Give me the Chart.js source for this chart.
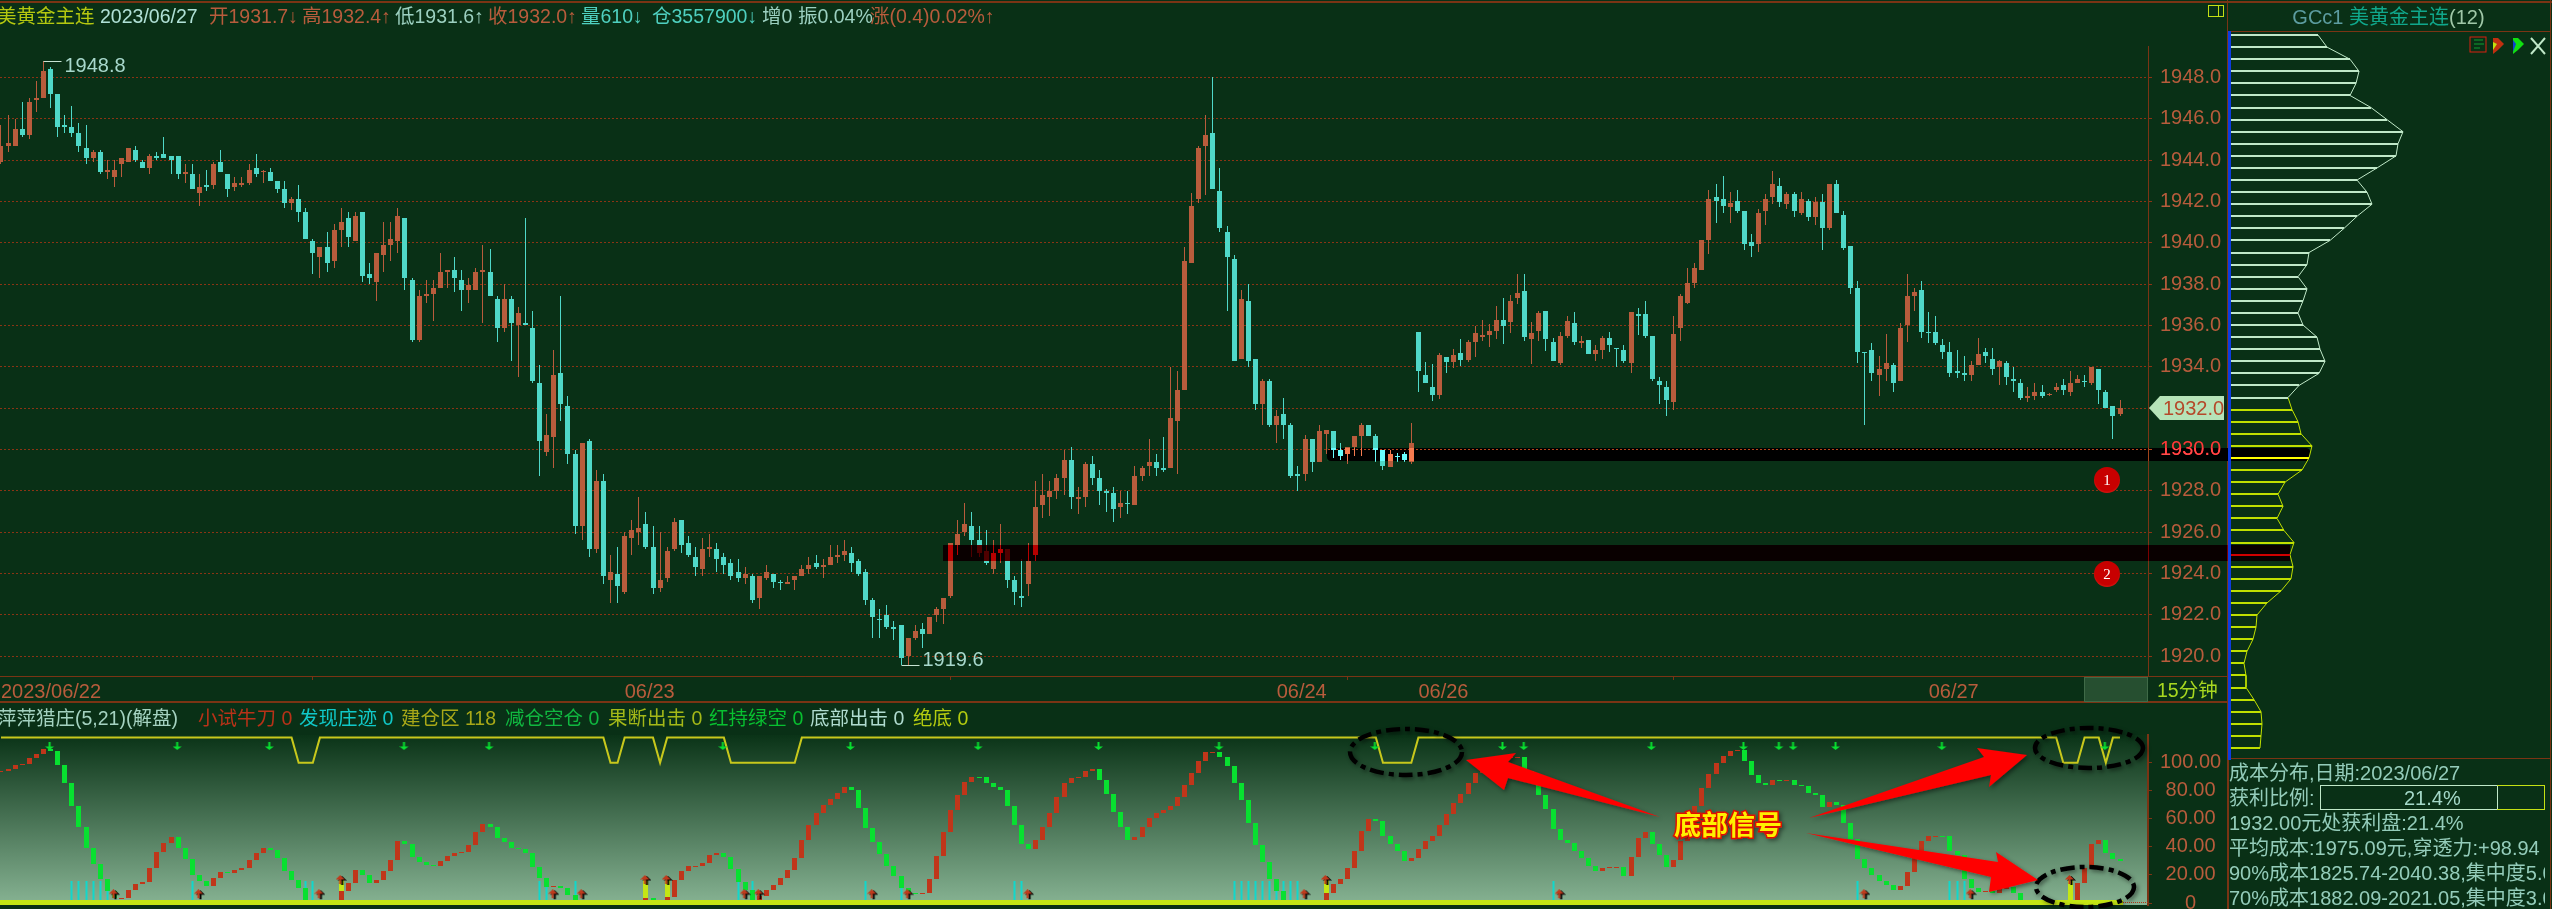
<!DOCTYPE html>
<html lang="zh">
<head>
<meta charset="utf-8">
<title>美黄金主连 15分钟</title>
<script src="https://cdn.jsdelivr.net/npm/chart.js@4/dist/chart.umd.min.js"></script>
<style>
html, body { margin:0; padding:0; width:2552px; height:909px; overflow:hidden; background:#093016; }
body { position:relative; font-family:"Liberation Sans","Noto Sans CJK SC",sans-serif; }
canvas { position:absolute; display:block; }
#cMain { left:0; top:0; z-index:1; }
#cInd { left:0; top:703px; z-index:1; }
#cCost { left:2229px; top:29px; z-index:2; }
.t { position:absolute; white-space:nowrap; z-index:4; font-size:19.5px; line-height:22px; }
.c { font-size:20px; color:#94ccba; }
.ln { position:absolute; background:#7a3414; z-index:3; }
.mark { position:absolute; width:26px; height:26px; border-radius:50%; z-index:4; color:#fff;
  background:radial-gradient(circle at 50% 45%, #c80000 62%, #e02018 80%, #8a0000 100%);
  font:15px/26px "Liberation Serif",serif; text-align:center; }
#cfg { position:absolute; left:0; top:0; z-index:5; pointer-events:none; }
</style>
</head>
<body>
<canvas id="cMain" width="2552" height="703"></canvas>
<canvas id="cInd" width="2229" height="206"></canvas>
<canvas id="cCost" width="321" height="725"></canvas>

<!-- linhas do quadro -->
<div class="ln" style="left:0;top:1px;width:2552px;height:2px"></div>
<div class="ln" style="left:2227px;top:31px;width:323px;height:1px"></div>
<div class="ln" style="left:2227px;top:758px;width:323px;height:1px"></div>
<div class="ln" style="left:2550px;top:0;width:1px;height:909px"></div>
<div class="ln" style="left:2228px;top:31px;width:3px;height:729px;background:#0e3ce0"></div>
<div style="position:absolute;left:2084px;top:677px;width:62px;height:23px;background:#264f30;border:1px solid #3f6a47;z-index:3"></div>
<div style="position:absolute;left:2208px;top:5px;width:14px;height:10px;border:1px solid #c4e014;z-index:3"></div>
<div style="position:absolute;left:2218px;top:5px;width:1px;height:11px;background:#c4e014;z-index:3"></div>

<!-- cabecalho -->
<div class="t" style="left:-3px;top:5px;color:#b4c810">美黄金主连</div>
<div class="t" style="left:100px;top:5px;color:#b0e0d6">2023/06/27</div>
<div class="t" style="left:209px;top:5px;color:#b85c3c">开1931.7↓</div>
<div class="t" style="left:302px;top:5px;color:#b85c3c">高1932.4↑</div>
<div class="t" style="left:395px;top:5px;color:#9cd0c0">低1931.6↑</div>
<div class="t" style="left:488px;top:5px;color:#b85c3c">收1932.0↑</div>
<div class="t" style="left:581px;top:5px;color:#4fd0c0">量610↓</div>
<div class="t" style="left:652px;top:5px;color:#4fd0c0">仓3557900↓</div>
<div class="t" style="left:762px;top:5px;color:#9cd0c0">增0</div>
<div class="t" style="left:798px;top:5px;color:#9cd0c0">振0.04%</div>
<div class="t" style="left:870px;top:5px;color:#b85c3c">涨(0.4)0.02%↑</div>

<!-- titulo do indicador -->
<div class="t" style="left:-3px;top:707px;color:#a4d2c0">萍萍猎庄(5,21)(解盘)</div>
<div class="t" style="left:198px;top:707px;color:#b83218">小试牛刀 0</div>
<div class="t" style="left:299px;top:707px;color:#10c8c8">发现庄迹 0</div>
<div class="t" style="left:401px;top:707px;color:#a8a818">建仓区 118</div>
<div class="t" style="left:505px;top:707px;color:#10b840">减仓空仓 0</div>
<div class="t" style="left:608px;top:707px;color:#a4b818">果断出击 0</div>
<div class="t" style="left:709px;top:707px;color:#08c030">红持绿空 0</div>
<div class="t" style="left:810px;top:707px;color:#b0dcd0">底部出击 0</div>
<div class="t" style="left:913px;top:707px;color:#b4cc10">绝底 0</div>
<div class="t" style="left:2157px;top:679px;color:#a8d820">15分钟</div>

<!-- painel de custo -->
<div class="t" style="left:2227px;width:323px;text-align:center;top:6px;font-size:20px;color:#5c9ca0">GCc1 <span style="color:#10a88c">美黄金主连</span><span style="color:#a0c8a8">(12)</span></div>
<div class="t c" style="left:2229px;top:762px">成本分布,日期:2023/06/27</div>
<div class="t c" style="left:2229px;top:787px">获利比例:</div>
<div style="position:absolute;left:2320px;top:785px;width:176px;height:23px;border:1px solid #c0e8c8;z-index:4"></div>
<div style="position:absolute;left:2497px;top:785px;width:47px;height:23px;border:1px solid #c4e014;border-left:none;z-index:4"></div>
<div class="t c" style="left:2404px;top:787px;color:#a4d8c8">21.4%</div>
<div class="t c" style="left:2229px;top:812px">1932.00元处获利盘:21.4%</div>
<div class="t c" style="left:2229px;top:837px">平均成本:1975.09元,穿透力:+98.94</div>
<div class="t c" style="left:2229px;top:862px;width:316px;overflow:hidden">90%成本1825.74-2040.38,集中度5.0</div>
<div class="t c" style="left:2229px;top:887px;width:316px;overflow:hidden">70%成本1882.09-2021.05,集中度3.0</div>

<div class="mark" style="left:2094px;top:467px">1</div>
<div class="mark" style="left:2094px;top:561px">2</div>

<!-- anotacoes feitas a mao sobre a imagem -->
<svg id="cfg" width="2552" height="909">
  <defs><filter id="sh"><feDropShadow dx="2" dy="2" stdDeviation="2" flood-color="#000" flood-opacity=".45"/></filter></defs>
  <g fill="none" stroke="#000" stroke-width="4.5" stroke-dasharray="14 5 5 5" filter="url(#sh)">
    <ellipse cx="1406" cy="752" rx="56" ry="23"/>
    <ellipse cx="2089" cy="748" rx="54" ry="20"/>
    <ellipse cx="2085" cy="887" rx="49" ry="20"/>
  </g>
  <g fill="#ff0000" filter="url(#sh)">
    <polygon points="1660,817 1508,778 1504,790 1466,760 1516,753 1508,762"/>
    <polygon points="1809,818 1984,757 1977,748 2027,755 1989,787 1991,775"/>
    <polygon points="1806,833 1998,862 1996,852 2038,880 1989,892 1991,877"/>
  </g>
  <g>
    <rect x="2470" y="37" width="16" height="15" fill="none" stroke="#d82010"/>
    <path d="M2474 40h9M2474 44h10M2474 48h6" stroke="#10a030"/>
    <polygon points="2493,38 2498,38 2504,44 2498,50 2493,54" fill="#c03010"/>
    <polygon points="2493,42 2497,44 2493,50" fill="#c0e010"/>
    <polygon points="2513,38 2518,38 2524,44 2518,50 2513,54" fill="#10e010"/>
    <polygon points="2513,40 2516,44 2513,52" fill="#1040d0"/>
    <path d="M2531 38l14 16M2545 38l-14 16" stroke="#c0e8c8" stroke-width="2"/>
  </g>
  <text x="1728" y="835" text-anchor="middle" font-family="Noto Sans CJK SC" font-weight="700" font-size="27"
    fill="#fff000" stroke="#e01000" stroke-width="3" paint-order="stroke" filter="url(#sh)">底部信号</text>
</svg>

<script>
// PRECOS (uma barra de 15 minutos por posicao)
const opens = [
  1943.9,1944.7,1944.7,1945.5,1945.2,1946.9,1947.0,1948.4,1947.2,1945.7,
  1945.6,1945.3,1944.6,1944.1,1944.4,1943.4,1943.2,1943.8,1943.9,1944.5,
  1943.9,1943.6,1944.2,1944.3,1944.2,1944.2,1943.3,1943.3,1942.4,1942.8,
  1942.8,1943.9,1943.3,1942.7,1942.8,1942.9,1943.6,1943.4,1943.4,1943.0,
  1942.6,1941.9,1942.1,1941.5,1940.1,1939.3,1939.8,1939.1,1940.6,1941.2,
  1940.1,1941.5,1938.5,1938.1,1939.4,1939.9,1940.1,1941.2,1938.2,1935.3,
  1937.4,1937.5,1937.8,1938.6,1938.7,1938.2,1937.7,1937.7,1938.6,1938.6,
  1937.3,1935.9,1937.3,1936.0,1936.1,1935.9,1933.2,1929.9,1930.6,1933.7,
  1932.1,1929.8,1926.3,1930.4,1925.2,1928.5,1923.7,1924.0,1923.1,1925.7,
  1926.0,1926.4,1925.3,1923.3,1923.8,1925.2,1926.6,1925.5,1924.8,1924.2,
  1925.2,1925.2,1924.8,1924.5,1924.1,1923.8,1923.9,1922.8,1923.8,1924.0,
  1923.6,1923.5,1923.7,1923.9,1924.2,1924.5,1924.3,1924.4,1924.8,1924.9,
  1925.0,1924.6,1924.1,1922.7,1921.8,1922.0,1921.4,1921.5,1920.0,1920.9,
  1921.3,1921.1,1922.0,1922.3,1922.9,1925.4,1926.0,1926.3,1925.6,1925.1,
  1924.2,1925.0,1925.2,1923.7,1922.9,1923.5,1924.9,1927.3,1927.7,1928.0,
  1928.6,1929.5,1927.6,1927.7,1929.3,1928.6,1928.0,1927.9,1927.2,1927.4,
  1927.3,1928.7,1929.2,1929.4,1929.1,1929.1,1931.4,1932.9,1939.0,1942.1,
  1944.7,1945.3,1942.5,1940.5,1939.2,1934.4,1937.2,1934.4,1932.2,1933.3,
  1931.2,1931.7,1931.2,1928.8,1928.8,1930.5,1929.4,1930.75,1930.9,1930.0,
  1929.8,1930.1,1930.65,1931.2,1930.65,1930.0,1929.15,1929.7,1929.8,1929.4,
  1935.7,1933.6,1933.0,1932.65,1934.45,1934.25,1934.65,1934.35,1935.2,1935.45,
  1935.55,1935.75,1936.25,1936.15,1937.35,1937.65,1935.35,1935.75,1936.7,1935.2,
  1934.2,1935.5,1936.1,1935.15,1935.3,1934.6,1934.8,1935.4,1934.9,1934.8,
  1934.2,1936.55,1936.55,1935.5,1933.3,1933.0,1932.3,1935.9,1937.1,1938.05,
  1938.7,1940.15,1942.2,1942.1,1941.75,1942.0,1941.55,1940.05,1939.95,1941.55,
  1942.2,1942.75,1941.85,1942.35,1941.45,1942.0,1941.25,1941.95,1940.7,1942.85,
  1941.35,1939.85,1937.8,1934.7,1934.8,1933.6,1933.9,1934.1,1933.3,1936.0,
  1937.4,1937.7,1935.7,1935.7,1935.05,1934.7,1933.8,1933.7,1933.6,1934.1,
  1934.7,1934.4,1934.0,1934.2,1933.4,1933.2,1932.5,1932.6,1932.8,1932.65,
  1932.9,1933.1,1932.8,1933.2,1933.3,1933.2,1933.9,1932.8,1932.1,1931.7
];
const closes = [
  1944.7,1944.8,1945.5,1945.2,1946.8,1947.0,1948.3,1947.2,1945.6,1945.6,
  1945.3,1944.7,1944.1,1944.4,1943.4,1943.5,1943.5,1944.1,1944.6,1944.0,
  1943.6,1944.2,1944.1,1944.1,1944.0,1943.3,1943.4,1942.6,1942.7,1942.7,
  1943.8,1943.4,1942.6,1942.9,1942.9,1943.5,1943.3,1943.45,1943.0,1942.6,
  1941.9,1942.1,1941.5,1940.2,1939.5,1939.8,1939.0,1940.6,1941.0,1940.3,
  1941.3,1938.4,1938.3,1939.5,1939.9,1940.2,1941.3,1938.3,1935.3,1937.4,
  1937.5,1937.8,1938.6,1938.7,1938.3,1937.7,1937.95,1938.6,1938.7,1937.4,
  1935.9,1937.3,1936.1,1936.6,1936.0,1933.3,1930.4,1930.7,1933.6,1932.2,
  1929.8,1926.3,1930.3,1925.2,1928.5,1923.9,1924.1,1923.4,1925.8,1926.1,
  1926.2,1925.3,1923.3,1923.7,1925.1,1926.5,1925.4,1924.9,1924.3,1925.2,
  1925.3,1924.7,1924.4,1923.9,1923.8,1924.0,1922.7,1923.9,1924.1,1923.6,
  1923.55,1923.6,1923.9,1924.2,1924.4,1924.3,1924.4,1924.8,1924.9,1925.1,
  1924.5,1924.0,1922.7,1921.9,1921.75,1921.4,1921.3,1919.9,1920.9,1921.2,
  1921.1,1921.9,1922.3,1922.8,1925.5,1925.9,1926.4,1925.6,1925.0,1924.5,
  1925.0,1925.2,1923.7,1923.1,1922.8,1924.6,1927.2,1927.8,1928.0,1928.6,
  1929.5,1927.7,1927.7,1929.3,1928.6,1928.0,1927.9,1927.1,1927.4,1927.35,
  1928.7,1929.1,1929.4,1929.1,1929.0,1931.5,1932.9,1939.1,1941.8,1944.6,
  1945.2,1942.6,1940.7,1939.3,1934.3,1937.3,1934.3,1932.2,1933.3,1931.2,
  1931.6,1931.2,1928.7,1928.7,1930.5,1929.4,1930.9,1930.95,1930.0,1929.7,
  1930.1,1930.65,1931.2,1930.65,1930.0,1929.2,1929.8,1929.65,1929.5,1930.3,
  1933.8,1933.2,1932.65,1934.55,1934.25,1934.55,1934.35,1935.2,1935.65,1935.55,
  1935.75,1936.25,1935.95,1937.2,1937.55,1935.45,1935.65,1936.6,1935.35,1934.3,
  1935.5,1936.2,1935.2,1935.25,1934.6,1934.8,1935.4,1935.05,1934.85,1934.3,
  1936.65,1936.45,1935.5,1933.4,1933.1,1932.4,1935.6,1937.4,1938.05,1938.8,
  1940.15,1942.1,1942.0,1941.8,1941.9,1941.55,1939.95,1939.85,1941.45,1942.1,
  1942.85,1941.95,1942.35,1941.55,1942.1,1941.25,1941.95,1940.7,1942.85,1941.45,
  1939.75,1937.8,1934.7,1934.65,1933.7,1933.9,1934.2,1933.2,1935.9,1937.4,
  1937.6,1935.7,1935.65,1935.15,1934.7,1933.7,1933.7,1933.6,1934.1,1934.6,
  1934.5,1933.9,1934.3,1933.5,1933.3,1932.5,1932.6,1932.8,1932.6,1932.7,
  1933.0,1932.9,1933.2,1933.4,1933.25,1934.0,1932.9,1932.0,1931.6,1932.0
];
const highs = [
  1945.7,1946.2,1946.0,1946.8,1947.0,1947.8,1948.8,1948.5,1947.2,1946.2,
  1946.6,1945.8,1945.7,1944.5,1944.5,1944.0,1944.0,1944.1,1944.6,1944.7,
  1944.0,1944.3,1944.4,1945.1,1944.2,1944.2,1943.8,1943.8,1943.3,1943.5,
  1943.9,1944.5,1943.3,1943.2,1943.2,1943.8,1944.3,1943.5,1943.6,1943.0,
  1943.0,1942.2,1942.8,1941.7,1940.2,1939.8,1940.5,1940.9,1941.7,1941.5,
  1941.5,1941.5,1939.0,1939.5,1941.0,1941.0,1941.7,1941.2,1938.3,1937.7,
  1938.2,1938.2,1939.5,1938.7,1939.3,1938.7,1938.3,1938.8,1939.9,1939.7,
  1937.4,1938.0,1937.4,1936.9,1941.2,1936.7,1934.1,1931.7,1934.8,1937.4,
  1932.6,1930.0,1930.3,1930.5,1929.0,1928.8,1924.9,1925.3,1926.0,1926.6,
  1927.7,1927.0,1926.3,1926.0,1925.3,1926.7,1926.6,1925.8,1925.3,1925.7,
  1925.9,1925.5,1925.0,1924.7,1924.7,1924.3,1924.0,1923.9,1924.4,1924.0,
  1923.7,1923.9,1923.9,1924.4,1924.8,1924.9,1924.7,1925.4,1925.4,1925.6,
  1925.3,1924.7,1924.2,1922.8,1922.3,1922.5,1921.7,1921.5,1920.9,1921.5,
  1921.6,1921.9,1922.4,1922.8,1925.5,1926.6,1927.4,1927.0,1926.3,1926.1,
  1925.6,1926.4,1925.2,1923.9,1924.7,1925.5,1928.5,1928.8,1928.5,1928.8,
  1930.0,1930.1,1928.2,1929.4,1929.7,1929.0,1928.1,1928.2,1928.0,1928.0,
  1929.2,1929.2,1930.5,1929.8,1930.6,1934.0,1933.8,1939.8,1942.4,1944.7,
  1946.2,1948.0,1943.6,1940.8,1939.4,1937.7,1938.0,1934.4,1933.4,1933.4,
  1931.9,1932.5,1931.3,1929.2,1930.7,1930.5,1931.2,1930.95,1930.9,1930.3,
  1930.1,1930.65,1931.3,1931.2,1930.75,1930.0,1930.0,1929.85,1929.9,1931.3,
  1935.7,1934.25,1934.15,1934.65,1934.45,1934.85,1935.35,1935.3,1935.95,1936.25,
  1936.05,1936.95,1937.35,1937.45,1938.5,1938.5,1936.15,1936.7,1936.7,1935.4,
  1935.7,1936.45,1936.65,1935.5,1935.3,1935.05,1935.5,1935.7,1934.9,1935.05,
  1936.65,1936.85,1937.2,1935.5,1933.5,1933.3,1936.45,1937.5,1938.8,1939.0,
  1940.15,1942.55,1942.85,1943.25,1942.45,1942.55,1941.55,1940.4,1941.65,1942.35,
  1943.45,1943.15,1942.45,1942.45,1942.45,1942.1,1942.2,1942.35,1942.85,1943.05,
  1941.55,1939.85,1938.15,1934.7,1935.15,1934.5,1935.6,1934.2,1936.1,1938.5,
  1937.8,1938.15,1936.65,1936.45,1935.35,1935.2,1934.8,1934.5,1934.3,1935.4,
  1934.9,1934.9,1934.35,1934.3,1934.0,1933.4,1933.0,1933.2,1933.1,1932.75,
  1933.2,1933.4,1933.8,1933.6,1933.6,1934.0,1933.9,1932.9,1932.1,1932.4
];
const lows = [
  1943.8,1944.4,1944.7,1945.1,1945.0,1946.3,1947.0,1946.5,1945.1,1945.3,
  1945.1,1944.4,1943.8,1943.9,1943.3,1943.1,1942.7,1943.2,1943.9,1943.9,
  1943.6,1943.3,1944.0,1944.1,1943.3,1943.1,1942.9,1942.6,1941.8,1942.5,
  1942.6,1943.4,1942.2,1942.5,1942.7,1942.8,1943.2,1942.9,1943.0,1942.4,
  1941.7,1941.6,1941.0,1940.2,1938.5,1938.3,1938.6,1938.8,1939.8,1939.8,
  1940.1,1938.1,1938.0,1937.2,1938.6,1939.1,1939.5,1937.7,1935.2,1935.2,
  1937.1,1936.2,1937.8,1937.8,1937.6,1936.7,1937.1,1937.7,1936.1,1937.4,
  1935.2,1935.7,1934.3,1933.5,1936.0,1933.2,1928.7,1929.7,1929.1,1931.4,
  1929.3,1925.9,1925.6,1924.8,1925.0,1923.5,1922.6,1922.6,1923.0,1924.9,
  1925.4,1925.2,1923.0,1923.1,1923.6,1925.1,1925.0,1924.8,1923.9,1923.9,
  1924.8,1924.1,1924.0,1923.7,1923.6,1923.5,1922.6,1922.3,1923.7,1923.3,
  1923.2,1923.5,1923.2,1923.9,1924.0,1924.2,1923.8,1924.4,1924.5,1924.6,
  1924.1,1923.9,1922.5,1920.9,1920.9,1921.3,1920.8,1919.6,1919.6,1920.8,
  1920.4,1921.1,1921.65,1921.55,1922.8,1924.9,1925.8,1924.8,1924.8,1924.4,
  1924.0,1924.5,1923.3,1922.5,1922.4,1922.9,1924.6,1926.7,1926.8,1927.6,
  1927.8,1927.1,1926.9,1927.2,1928.3,1927.3,1927.0,1926.5,1926.7,1926.9,
  1927.3,1928.5,1928.7,1928.7,1928.9,1929.1,1928.8,1932.9,1939.0,1941.9,
  1942.3,1942.6,1940.5,1936.7,1934.3,1934.4,1934.0,1931.9,1931.2,1931.1,
  1930.3,1930.5,1928.6,1928.0,1928.5,1928.9,1929.4,1929.8,1929.6,1929.5,
  1929.3,1929.7,1929.7,1930.65,1929.4,1929.0,1929.15,1929.4,1929.4,1929.3,
  1932.8,1933.2,1932.35,1932.45,1933.7,1933.95,1934.05,1934.25,1934.45,1935.25,
  1934.95,1935.35,1935.1,1935.65,1937.05,1935.25,1934.15,1935.25,1934.75,1934.3,
  1934.1,1935.4,1935.05,1934.9,1934.6,1934.3,1934.4,1934.7,1934.0,1934.2,
  1933.7,1935.55,1935.4,1933.3,1932.2,1931.6,1931.9,1935.25,1937.05,1937.8,
  1938.7,1939.45,1940.95,1941.45,1940.95,1941.45,1939.65,1939.3,1939.55,1940.85,
  1941.85,1941.75,1941.65,1941.25,1941.35,1941.05,1940.85,1939.65,1940.6,1941.45,
  1939.65,1937.5,1934.2,1931.2,1933.3,1932.6,1933.3,1932.8,1933.3,1935.2,
  1936.7,1935.4,1935.15,1935.05,1934.4,1933.5,1933.45,1933.3,1933.3,1934.1,
  1934.2,1933.6,1933.1,1933.1,1932.8,1932.4,1932.3,1932.4,1932.5,1932.6,
  1932.8,1932.65,1932.6,1933.2,1933.0,1933.1,1932.2,1932.0,1930.5,1931.6
];
const dateTickIdx = [0, 88, 180, 200, 272];
const dateLabels = ["2023/06/22", "06/23", "06/24", "06/26", "06/27"];

// INDICADOR
const kdValues = [
  94.3,95.5,98.6,99.1,103.5,106.4,109.9,108.5,98.6,85.8,
  69.5,53.9,39.0,28.1,17.0,8.5,3.3,3.8,9.2,13.5,
  14.9,24.8,36.2,42.6,46.8,39.0,31.2,19.9,15.6,12.3,
  17.7,22.0,21.3,23.2,24.8,30.5,35.5,39.0,37.6,31.9,
  22.7,16.3,10.6,2.1,0.8,0.4,0.2,0.0,8.5,14.2,
  23.4,19.9,14.2,16.3,22.7,30.5,44.0,41.8,32.6,29.1,
  27.0,26.2,29.8,33.3,35.5,36.2,41.1,50.4,56.7,53.9,
  46.1,43.3,39.0,38.3,35.5,25.5,17.7,11.3,12.1,10.6,
  5.7,2.1,1.2,0.6,0.3,0.2,0.1,0.0,0.0,0.0,
  0.0,3.3,2.1,0.8,4.0,16.3,22.7,26.2,26.7,28.4,
  34.0,35.5,32.6,24.1,14.9,9.2,2.1,5.0,9.2,12.8,
  17.7,23.4,31.9,44.7,56.0,64.5,70.2,74.5,78.7,83.0,
  80.9,68.1,53.2,43.3,34.8,26.2,19.1,10.6,6.9,6.6,
  6.9,17.0,33.3,50.4,66.0,77.3,86.5,90.1,89.8,85.8,
  83.0,80.9,69.5,56.0,41.8,38.3,44.7,53.9,64.5,75.9,
  85.8,89.4,90.1,94.3,95.7,87.9,78.0,65.2,53.9,44.7,
  46.8,53.9,60.3,64.5,66.7,69.5,75.9,84.4,92.9,101.4,
  107.8,108.0,104.3,97.9,85.8,73.8,57.4,41.1,29.3,17.0,
  8.5,2.1,1.0,0.5,0.2,0.0,0.0,7.3,13.5,17.0,
  24.8,36.9,51.1,59.6,58.4,47.5,41.8,36.9,29.8,31.9,
  38.3,44.0,47.5,56.0,63.8,71.6,78.0,85.8,92.9,98.6,
  102.1,102.8,103.8,104.0,104.3,94.3,88.7,77.3,67.4,52.5,
  44.7,42.6,36.9,31.9,26.2,22.7,24.8,25.5,25.5,19.1,
  32.6,46.1,50.4,41.8,34.0,25.5,30.5,44.0,55.8,69.5,
  82.3,92.2,100.0,105.0,108.5,109.2,101.4,91.5,85.8,84.4,
  87.9,87.2,87.7,84.4,83.7,78.7,77.3,68.8,72.3,70.2,
  57.4,45.4,31.2,24.8,19.9,15.6,12.8,9.2,12.1,22.0,
  34.0,44.0,47.5,47.8,47.5,36.9,34.0,17.0,10.6,7.8,
  8.3,6.9,9.9,11.3,7.1,2.1,1.0,0.5,0.2,0.0,
  0.0,0.0,0.0,14.2,24.8,41.8,44.7,35.5,31.2,29.8
];
const zoneLine = [
  118,118,118,118,118,118,118,118,118,118,
  118,118,118,118,118,118,118,118,118,118,
  118,118,118,118,118,118,118,118,118,118,
  118,118,118,118,118,118,118,118,118,118,
  118,118,100,100,100,118,118,118,118,118,
  118,118,118,118,118,118,118,118,118,118,
  118,118,118,118,118,118,118,118,118,118,
  118,118,118,118,118,118,118,118,118,118,
  118,118,118,118,118,118,100,100,118,118,
  118,118,118,100,118,118,118,118,118,118,
  118,118,118,100,100,100,100,100,100,100,
  100,100,100,118,118,118,118,118,118,118,
  118,118,118,118,118,118,118,118,118,118,
  118,118,118,118,118,118,118,118,118,118,
  118,118,118,118,118,118,118,118,118,118,
  118,118,118,118,118,118,118,118,118,118,
  118,118,118,118,118,118,118,118,118,118,
  118,118,118,118,118,118,118,118,118,118,
  118,118,118,118,118,118,118,118,118,118,
  118,118,118,118,118,100,100,100,100,100,
  118,118,118,118,118,118,118,118,118,118,
  118,118,118,118,118,118,118,118,118,118,
  118,118,118,118,118,118,118,118,118,118,
  118,118,118,118,118,118,118,118,118,118,
  118,118,118,118,118,118,118,118,118,118,
  118,118,118,118,118,118,118,118,118,118,
  118,118,118,118,118,118,118,118,118,118,
  118,118,118,118,118,118,118,118,118,118,
  118,118,118,118,118,118,118,118,118,118,
  118,100,100,100,118,118,118,100,118,118
];
const cyanIdx = [10,11,12,13,14,15,27,43,44,76,77,81,104,106,122,127,143,144,174,175,176,177,178,179,180,181,182,183,219,262,275,276,277];
const cyanRange = [2.1, 15.6];
const signalIdx = [48,91,94,187,292];
const signalRange = [2.1, 16.3];
const upLowIdx = [16,28,45,78,82,105,107,123,128,145,184,220,263,278];
const upHighIdx = [48,91,94,187,292];
const downIdx = [7,25,38,57,69,102,120,138,155,172,194,212,215,233,246,251,253,259,274,297];
const upLowLevel = 5.9, upHighLevel = 16.1, downLevel = 111.3;

// DISTRIBUICAO DE CUSTO (uma linha por faixa, de cima para baixo)
const costLengths = [
  89,98,121,130,127,121,142,158,174,169,
  167,148,128,138,143,128,115,101,80,78,
  69,78,74,69,74,88,91,96,90,70,
  59,63,69,72,83,80,73,56,49,54,
  48,55,65,61,64,62,52,38,28,27,
  24,18,15,17,17,25,32,33,32,31
];
const profitRows = 31, todayRow = 35, avgRow = 43;

const bgColor = "#093016", upColor = "#b85c3c", downColor = "#4fd8c8", axisColor = "#7a3414", tickColor = "#b85c3c";
const fontName = '"Liberation Sans","Noto Sans CJK SC",sans-serif';
const xMin = -0.141, xMax = 302.95;
const bars = opens.map((_, i) => i);

// encaixa as barras nos pixels para ficarem nitidas como no original
const snapBars = {
  id: "snapBars",
  afterDatasetsUpdate(chart) {
    chart.getSortedVisibleDatasetMetas().forEach(meta => {
      if (meta.type !== "bar") return;
      meta.data.forEach(b => {
        if (meta.indexAxis === "y") { b.y = Math.round(b.y); return; }
        b.x = Math.floor(b.x) + 0.5;
        const top = Math.round(Math.min(b.y, b.base));
        const bot = Math.round(Math.max(b.y, b.base));
        b.y = top;
        b.base = Math.max(bot, top + 1);
      });
    });
  }
};

// o eixo direito tem largura fixa e nao empurra a area do grafico
const fixAxis = s => {
  s.width = 79;
  s.paddingTop = 0;
  s.paddingBottom = 0;
};

// fundo, faixas pretas e rotulos do grafico principal
const mainDecor = {
  id: "mainDecor",
  beforeDraw(chart) {
    const { ctx } = chart;
    ctx.save();
    ctx.fillStyle = bgColor;
    ctx.fillRect(0, 0, chart.width, chart.height);
    ctx.fillStyle = axisColor;
    ctx.fillRect(2227, 0, 1, chart.height);
    ctx.fillRect(0, 676, 2227, 1);
    ctx.fillRect(0, 701, 2228, 2);
    ctx.fillStyle = "#000";
    ctx.beginPath();
    ctx.roundRect(1327, 448, 983, 13, 4);
    ctx.fill();
    ctx.restore();
  },
  afterDatasetsDraw(chart) {
    const { ctx, scales: { x, y } } = chart;
    ctx.save();
    // faixa 1: clareia o que esta por baixo, o preto continua preto
    ctx.globalCompositeOperation = "color-dodge";
    ctx.fillStyle = "#404040";
    ctx.fillRect(1327, 448, 983, 13);
    // faixa 2: multiplica por vermelho
    ctx.globalCompositeOperation = "multiply";
    ctx.fillStyle = "#ff0000";
    ctx.fillRect(943, 545, 1347, 16);
    ctx.globalCompositeOperation = "source-over";

    // maximo e minimo
    const hi = Math.max(...highs), lo = Math.min(...lows);
    const iHi = highs.indexOf(hi), iLo = lows.indexOf(lo);
    ctx.font = "20px " + fontName;
    ctx.textBaseline = "middle";
    ctx.textAlign = "left";
    [[iHi, hi, 5], [iLo, lo, -5]].forEach(([i, v, dy]) => {
      const px = Math.floor(x.getPixelForValue(i)) + 0.5, py = Math.round(y.getPixelForValue(v)) + 0.5;
      ctx.strokeStyle = "#c8e4d4";
      ctx.lineWidth = 1;
      ctx.beginPath();
      ctx.moveTo(px, py);
      ctx.lineTo(px + 18, py);
      ctx.stroke();
      ctx.fillStyle = "#a8d8cc";
      ctx.fillText(v.toFixed(1), px + 21, py + dy);
    });

    // etiqueta do ultimo preco
    const last = closes[closes.length - 1];
    const py = Math.round(y.getPixelForValue(last));
    ctx.fillStyle = "#b6e3b8";
    ctx.beginPath();
    ctx.moveTo(2149, py);
    ctx.lineTo(2160, py - 12);
    ctx.lineTo(2224, py - 12);
    ctx.lineTo(2224, py + 12);
    ctx.lineTo(2160, py + 12);
    ctx.closePath();
    ctx.fill();
    ctx.fillStyle = "#b5492a";
    ctx.font = "20px " + fontName;
    ctx.fillText(last.toFixed(1), 2163, py + 1);
    ctx.restore();
  }
};

// GRAFICO PRINCIPAL
new Chart(document.getElementById("cMain"), {
  type: "bar",
  plugins: [snapBars, mainDecor],
  data: {
    datasets: [
      {
        label: "corpo",
        data: bars.map(i => ({ x: i, y: [opens[i], closes[i]] })),
        backgroundColor: bars.map(i => closes[i] >= opens[i] ? upColor : downColor),
        barThickness: 5
      },
      {
        label: "pavio",
        data: bars.map(i => ({ x: i, y: [lows[i], highs[i]] })),
        backgroundColor: bars.map(i => closes[i] >= opens[i] ? upColor : downColor),
        barThickness: 1
      }
    ]
  },
  options: {
    responsive: false,
    animation: false,
    events: [],
    datasets: { bar: { grouped: false, inflateAmount: 0, borderWidth: 0 } },
    layout: { autoPadding: false, padding: { top: 46, right: 325, left: 0, bottom: 0 } },
    plugins: { legend: { display: false }, tooltip: { enabled: false } },
    scales: {
      x: {
        type: "linear", min: xMin, max: xMax, offset: false,
        afterBuildTicks: s => { s.ticks = dateTickIdx.map(v => ({ value: v })); },
        afterFit: s => { s.height = 27; },
        border: { color: axisColor, width: 1 },
        grid: { drawOnChartArea: false, drawTicks: true, tickLength: 4, color: axisColor },
        ticks: {
          callback: (v, i) => dateLabels[i],
          align: "start", autoSkip: false, maxRotation: 0, padding: 0,
          color: tickColor, font: { family: fontName, size: 20 }
        }
      },
      y: {
        position: "right", min: 1919.047, max: 1949.514,
        afterFit: fixAxis,
        border: { color: axisColor, width: 1, dash: [2, 2] },
        grid: { color: "#8a3414", tickLength: 4, tickBorderDash: [], tickColor: "#8a3414", lineWidth: 1 },
        ticks: {
          stepSize: 2, includeBounds: false, crossAlign: "center", padding: 8,
          callback: v => v.toFixed(1),
          color: c => c.tick && c.tick.value === 1930 ? "#ff3838" : tickColor,
          font: { family: fontName, size: 20 }
        }
      }
    }
  }
});

// setas do indicador desenhadas num canvas pequeno e usadas como pointStyle
function arrowCanvas(color, up, w, h, shadow) {
  const c = document.createElement("canvas");
  c.width = w + 2; c.height = h + 2;
  const g = c.getContext("2d");
  const path = (ox, oy) => {
    const m = w / 2 + ox, t = oy, b = oy + h;
    g.beginPath();
    if (up) {
      g.moveTo(m, t); g.lineTo(ox + w, t + h * 0.5); g.lineTo(m + 1, t + h * 0.5); g.lineTo(m + 1, b);
      g.lineTo(m - 1, b); g.lineTo(m - 1, t + h * 0.5); g.lineTo(ox, t + h * 0.5);
    } else {
      g.moveTo(m, b); g.lineTo(ox + w, b - h * 0.45); g.lineTo(m + 1, b - h * 0.45); g.lineTo(m + 1, t);
      g.lineTo(m - 1, t); g.lineTo(m - 1, b - h * 0.45); g.lineTo(ox, b - h * 0.45);
    }
    g.closePath();
  };
  if (shadow) { g.fillStyle = "#000"; path(2, 1); g.fill(); }
  g.fillStyle = color;
  path(0, 0);
  g.fill();
  return c;
}
const upArrow = arrowCanvas("#c03a1c", true, 9, 9, true);
const downArrow = arrowCanvas("#08e030", false, 9, 8, false);

const indDecor = {
  id: "indDecor",
  beforeDraw(chart) {
    const { ctx, chartArea: a } = chart;
    ctx.save();
    ctx.fillStyle = bgColor;
    ctx.fillRect(0, 0, chart.width, chart.height);
    const grad = ctx.createLinearGradient(0, a.top, 0, a.bottom);
    grad.addColorStop(0, "#0a3317");
    grad.addColorStop(1, "#87b393");
    ctx.fillStyle = grad;
    ctx.fillRect(a.left, a.top, a.right - a.left, a.bottom - a.top);
    ctx.fillStyle = axisColor;
    ctx.fillRect(2227, 0, 2, chart.height);
    ctx.restore();
  },
  afterDatasetsDraw(chart) {
    const { ctx, chartArea: a, scales: { x } } = chart;
    const end = x.getPixelForValue(bars.length - 1) + 3;
    ctx.save();
    ctx.fillStyle = "#c4e614";
    ctx.fillRect(a.left, a.bottom - 5, end - a.left, 5);
    ctx.strokeStyle = "#b03414";
    ctx.setLineDash([1, 1]);
    ctx.beginPath();
    ctx.moveTo(end, a.bottom - 2.5);
    ctx.lineTo(a.right, a.bottom - 2.5);
    ctx.stroke();
    ctx.restore();
  }
};

// GRAFICO DO INDICADOR
new Chart(document.getElementById("cInd"), {
  type: "bar",
  plugins: [snapBars, indDecor],
  data: {
    datasets: [
      {
        type: "line", label: "seta baixo",
        data: downIdx.map(i => ({ x: i, y: downLevel })),
        showLine: false, pointStyle: downArrow, pointRadius: 6
      },
      {
        type: "line", label: "seta cima",
        data: upLowIdx.map(i => ({ x: i, y: upLowLevel })).concat(upHighIdx.map(i => ({ x: i, y: upHighLevel }))),
        showLine: false, pointStyle: upArrow, pointRadius: 6
      },
      {
        type: "line", label: "建仓区",
        data: bars.map(i => ({ x: i, y: zoneLine[i] })),
        borderColor: "#c8c81c", borderWidth: 2, pointRadius: 0, tension: 0
      },
      {
        label: "kd",
        data: bars.map(i => ({ x: i, y: [i ? kdValues[i - 1] : kdValues[i], kdValues[i]] })),
        backgroundColor: bars.map(i => (i && kdValues[i] < kdValues[i - 1]) ? "#08e030" : "#c0361a"),
        barThickness: 5
      },
      {
        label: "sinal",
        data: signalIdx.map(i => ({ x: i, y: signalRange })),
        backgroundColor: "#c4e614",
        barThickness: 5
      },
      {
        label: "庄迹",
        data: cyanIdx.map(i => ({ x: i, y: cyanRange })),
        backgroundColor: "#10d8cc",
        barThickness: 2
      }
    ]
  },
  options: {
    responsive: false,
    animation: false,
    events: [],
    datasets: { bar: { grouped: false, inflateAmount: 0, borderWidth: 0 } },
    layout: { autoPadding: false, padding: { top: 32, right: 2, left: 0, bottom: 4 } },
    plugins: { legend: { display: false }, tooltip: { enabled: false } },
    scales: {
      x: { type: "linear", min: xMin, max: xMax, offset: false, display: false },
      y: {
        position: "right", min: -1.42, max: 119.86,
        afterFit: fixAxis,
        border: { color: axisColor, width: 2 },
        grid: { drawOnChartArea: false, tickLength: 4, color: axisColor },
        ticks: {
          stepSize: 20, includeBounds: false, crossAlign: "center", padding: 8,
          callback: v => v === 0 ? "0" : v.toFixed(2),
          color: tickColor, font: { family: fontName, size: 20 }
        }
      }
    }
  }
});

// PAINEL DE CUSTO
const rowColor = i => {
  if (i === todayRow) return "#ffff00";
  if (i === avgRow) return "#d00000";
  return i < profitRows ? "#c0e8c8" : "#c0e000";
};
new Chart(document.getElementById("cCost"), {
  type: "bar",
  plugins: [snapBars],
  data: {
    labels: costLengths.map((_, i) => i),
    datasets: [
      {
        data: costLengths,
        backgroundColor: costLengths.map((_, i) => rowColor(i)),
        barThickness: 2, inflateAmount: 0
      },
      {
        type: "line",
        data: costLengths,
        borderWidth: 1, pointRadius: 0, tension: 0,
        borderColor: "#c0e000",
        segment: { borderColor: c => c.p0DataIndex < profitRows - 1 ? "#c0e8c8" : "#c0e000" }
      }
    ]
  },
  options: {
    indexAxis: "y",
    responsive: false,
    animation: false,
    events: [],
    layout: { padding: 0 },
    plugins: { legend: { display: false }, tooltip: { enabled: false } },
    scales: {
      x: { min: 0, max: 321, display: false },
      y: { display: false }
    }
  }
});
</script>
</body>
</html>
